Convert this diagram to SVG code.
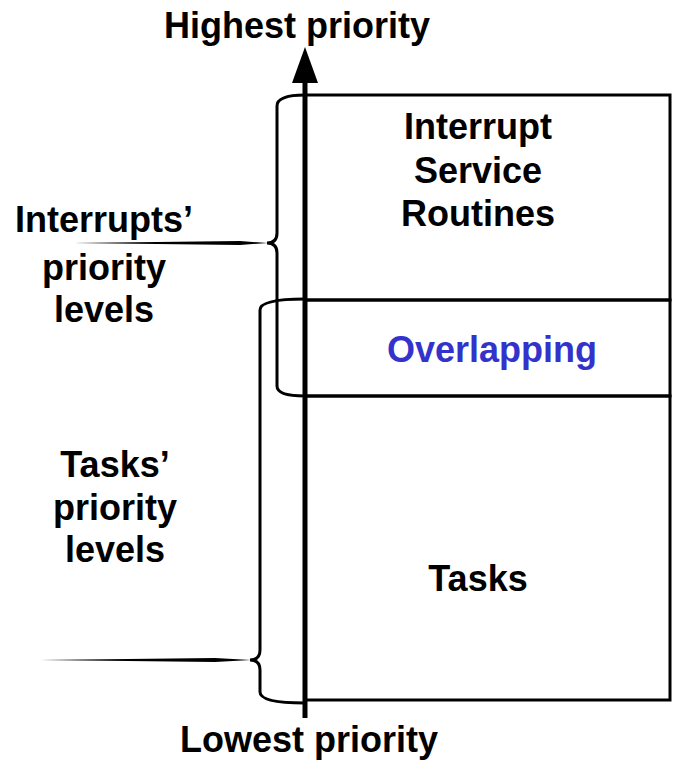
<svg xmlns="http://www.w3.org/2000/svg" width="673" height="761" viewBox="0 0 673 761">
<style>
text{font-family:"Liberation Sans",Arial,sans-serif;font-weight:bold;font-size:36px;fill:#000;text-anchor:middle}
.blue{fill:#3333cc}
.box{fill:none;stroke:#000;stroke-width:3}
.brace{fill:none;stroke:#000;stroke-width:3}
</style>
<g id="axis-labels">
<text x="297" y="38">Highest priority</text>
<text x="309" y="752">Lowest priority</text>
</g>
<g id="isr">
<rect class="box" x="305" y="95" width="365" height="205"/>
<text x="478" y="139">Interrupt</text>
<text x="478" y="183">Service</text>
<text x="478" y="226">Routines</text>
</g>
<g id="overlap">
<rect class="box" x="305" y="300" width="365" height="96"/>
<text class="blue" x="492" y="362">Overlapping</text>
</g>
<g id="tasks">
<rect class="box" x="305" y="396" width="365" height="304"/>
<text x="478" y="591">Tasks</text>
</g>
<g id="connectors">
<line x1="305" y1="718" x2="305" y2="80" stroke="#000" stroke-width="5"/>
<path d="M305,47 L318,83 L292,83 z" fill="#000"/>
<path class="brace" d="M305,95 Q277,95 277,106 L277,233 Q277,243 267,243 Q277,243 277,253 L277,386 Q277,396 305,396"/>
<polygon points="73,243 240,241 268,243 240,245" fill="#000"/>
<path class="brace" d="M305,299 Q260,299 260,310 L260,650 Q260,660 250,660 Q260,660 260,670 L260,692 Q260,703 305,703"/>
<polygon points="40,660 215,658 251,660 215,662" fill="#000"/>
</g>
<g id="interrupt-levels">
<text x="104" y="232">Interrupts’</text>
<text x="104" y="280">priority</text>
<text x="104" y="322">levels</text>
</g>
<g id="task-levels">
<text x="115" y="477">Tasks’</text>
<text x="115" y="520">priority</text>
<text x="115" y="562">levels</text>
</g>
</svg>
